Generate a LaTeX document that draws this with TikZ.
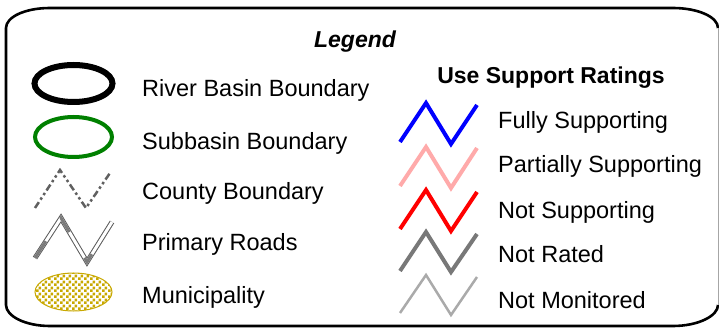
\documentclass[tikz,border=0pt]{standalone}
\usepackage{fontspec}
\setmainfont{Liberation Sans}
\usetikzlibrary{patterns.meta}

\definecolor{munifill}{RGB}{200,168,0}
\definecolor{subgreen}{RGB}{0,128,0}
\definecolor{countygray}{RGB}{96,96,96}
\definecolor{roadgray}{RGB}{90,90,90}
\definecolor{fullblue}{RGB}{0,0,255}
\definecolor{partpink}{RGB}{255,170,170}
\definecolor{notred}{RGB}{255,0,0}
\definecolor{ratedgray}{RGB}{120,120,120}
\definecolor{monitgray}{RGB}{170,170,170}

\tikzdeclarepattern{
  name=muniCheck,
  type=uncolored,
  bounding box={(0pt,0pt) and (6pt,6pt)},
  tile size={(6pt,6pt)},
  code={
    \fill (0pt,0pt) rectangle (3pt,3pt);
    \fill (3pt,3pt) rectangle (6pt,6pt);
  }
}

\tikzset{
  lbl/.style={anchor=base west, inner sep=0pt, font=\fontsize{23.5}{27}\selectfont},
  ttl/.style={anchor=base, inner sep=0pt, font=\fontsize{23}{27}\selectfont\bfseries},
  frame/.style={line width=2.6pt, black},
  zig/.style={line join=miter, line cap=butt},
}

\begin{document}
\begin{tikzpicture}[x=1pt, y=-1pt]
\useasboundingbox (0,0) rectangle (719,328);

% outer frame
\draw[frame] (718,28) .. controls (718,17) and (698,8) .. (673,8)
  -- (50,8) .. controls (25,8) and (6,17) .. (6,28)
  -- (6,305) .. controls (6,316) and (25,326) .. (50,326)
  -- (673,326) .. controls (698,326) and (718,316) .. (718,305);
\draw[line width=1pt, gray!70] (718,28) -- (718,305);

% titles
\node[ttl, font=\fontsize{23}{27}\selectfont\bfseries\itshape] (legend) at (355,48) {Legend};
\node[ttl] (ratings) at (551,84) {Use Support Ratings};

% left column symbols
\draw[line width=6pt, black] (73.5,83.5) ellipse [x radius=39, y radius=18.5];
\node[lbl] (basin) at (142,97) {River Basin Boundary};

\draw[line width=4pt, subgreen] (73.5,137) ellipse [x radius=38.5, y radius=20];
\node[lbl] (subbasin) at (142,150) {Subbasin Boundary};

\draw[zig, line width=2.5pt, countygray, dash pattern=on 7pt off 3pt on 2.5pt off 3pt on 2.5pt off 3pt]
  (35,208) -- (60,170) -- (86,208) -- (110,173);
\node[lbl] (county) at (142,200) {County Boundary};

\draw[zig, line width=5pt, roadgray] (35,258) -- (61,218) -- (87,262) -- (112,222);
\draw[zig, line width=3pt, white] (35,258) -- (61,218) -- (87,262) -- (112,222);
\draw[zig, line width=3pt, roadgray!80, dash pattern=on 20pt off 27pt on 17pt off 30pt on 14pt off 100pt]
  (35,258) -- (61,218) -- (87,262) -- (112,222);
\node[lbl] (roads) at (142,251) {Primary Roads};

\fill[pattern={muniCheck}, pattern color=munifill] (73.5,292) ellipse [x radius=38.5, y radius=19];
\draw[line width=1pt, munifill] (73.5,292) ellipse [x radius=38.5, y radius=19];
\node[lbl] (muni) at (142,303) {Municipality};

% right column: use support ratings
\draw[zig, line width=4pt, fullblue] (400,142) -- (426,103) -- (451,144) -- (477,105);
\node[lbl] (full) at (498,129) {Fully Supporting};

\draw[zig, line width=4pt, partpink] (400,186) -- (426,147) -- (451,188) -- (477,148);
\node[lbl] (partial) at (498,173) {Partially Supporting};

\draw[zig, line width=4pt, notred] (400,229) -- (426,190) -- (451,231) -- (477,192);
\node[lbl] (notsup) at (498,219) {Not Supporting};

\draw[zig, line width=4pt, ratedgray] (400,271) -- (426,232) -- (451,272) -- (477,234);
\node[lbl] (notrated) at (498,263) {Not Rated};

\draw[zig, line width=2.5pt, monitgray] (400,313) -- (426,275) -- (451,315) -- (477,277);
\node[lbl] (notmon) at (498,308) {Not Monitored};
\end{tikzpicture}
\end{document}
